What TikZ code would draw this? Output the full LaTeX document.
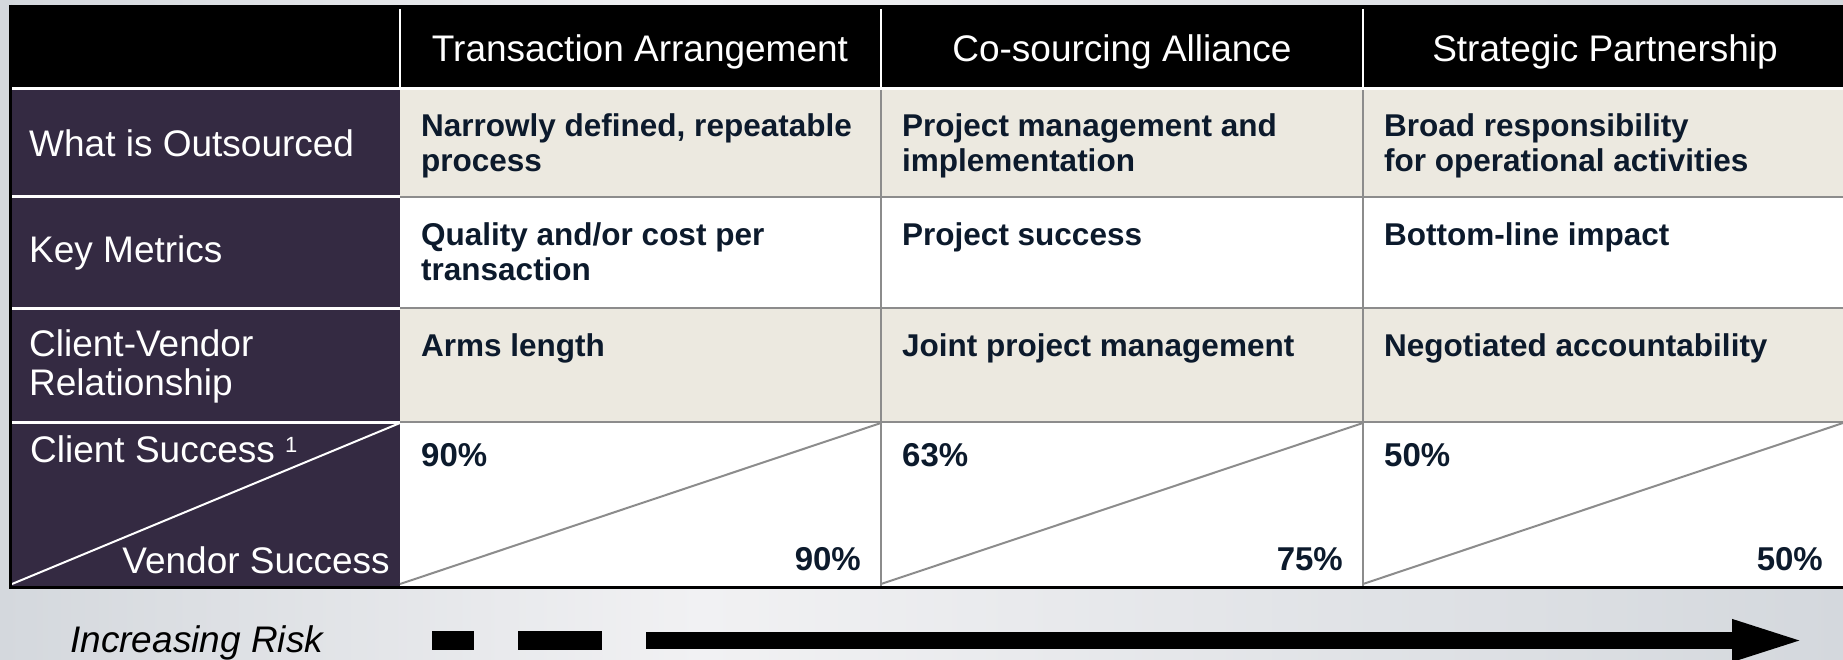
\documentclass[tikz,border=0pt]{standalone}
\usepackage{fontspec}
\setmainfont{Liberation Sans}
\usepackage{xcolor}
\usepackage{tikz}
\usetikzlibrary{arrows.meta}
\usetikzlibrary{positioning}

\definecolor{grisfondo}{RGB}{212,216,221}
\definecolor{fondoclaro}{RGB}{241,241,243}
\definecolor{morado}{RGB}{52,42,66}
\definecolor{beige}{RGB}{236,233,224}
\definecolor{tinta}{RGB}{12,26,44}
\definecolor{rejilla}{RGB}{140,140,140}

\begin{document}
\begin{tikzpicture}[x=1pt, y=-1pt,
    cabecera/.style={font=\fontsize{37}{40}\selectfont, text=white, anchor=base, inner sep=0pt},
    etiqueta/.style={font=\fontsize{37}{39}\selectfont, text=white, align=left, anchor=west, inner sep=0pt},
    celda/.style={font=\fontsize{31.5}{35}\selectfont\bfseries, text=tinta, align=left, anchor=north west, inner sep=0pt},
    porcentaje/.style={font=\fontsize{33}{36}\selectfont\bfseries, text=tinta, inner sep=0pt},
    gris/.style={draw=rejilla, line width=2.5pt},
    blanca/.style={draw=white, line width=3pt},
    flecha/.style={line width=17pt, -{Triangle[length=75pt, width=37pt]}}
]
\useasboundingbox (0,0) rectangle (1843,660);

% Fondo
\shade[left color=grisfondo, right color=fondoclaro] (0,0) rectangle (700,660);
\shade[left color=fondoclaro, right color=grisfondo] (700,0) rectangle (1843,660);

% Relleno de la tabla
\fill[black] (9,5) rectangle (1843,88);
\fill[morado] (9,88) rectangle (400,586);
\fill[beige] (400,88) rectangle (1843,197);
\fill[white] (400,197) rectangle (1843,308);
\fill[beige] (400,308) rectangle (1843,421);
\fill[white] (400,421) rectangle (1843,586);

% Lineas de la rejilla
\draw[blanca] (9,89) -- (1843,89);
\draw[blanca] (12,197) -- (400,197);
\draw[blanca] (12,308) -- (400,308);
\draw[blanca] (12,422) -- (400,422);
\draw[gris] (400,197) -- (1843,197);
\draw[gris] (400,308) -- (1843,308);
\draw[gris] (400,422) -- (1843,422);
\draw[white, line width=2pt] (400,9) -- (400,88);
\draw[white, line width=2pt] (881,9) -- (881,88);
\draw[white, line width=2pt] (1363,9) -- (1363,88);
\draw[gris] (881,90) -- (881,586);
\draw[gris] (1363,90) -- (1363,586);

% Diagonales
\draw[white, line width=2pt] (12,584) -- (400,423);
\draw[rejilla, line width=2pt] (400,584) -- (881,423);
\draw[rejilla, line width=2pt] (881,584) -- (1363,423);
\draw[rejilla, line width=2pt] (1363,584) -- (1843,423);

% Borde
\draw[black, line width=3pt] (10.5,5) -- (10.5,587.5) -- (1843,587.5);

% Cabeceras
\node[cabecera] (th1) at (640,62) {Transaction Arrangement};
\node[cabecera] (th2) at (1122,62) {Co-sourcing Alliance};
\node[cabecera] (th3) at (1605,62) {Strategic Partnership};

% Etiquetas de filas
\node[etiqueta] (l1) at (29,143) {What is Outsourced};
\node[etiqueta] (l2) at (29,253) {Key Metrics};
\node[etiqueta] (l3) at (29,366) {Client-Vendor\\Relationship};
\node[etiqueta, anchor=base west] (l4a) at (30,462) {Client Success {\fontsize{22}{22}\selectfont\raisebox{10pt}{1}}};
\node[etiqueta, anchor=base east] (l4b) at (390,573) {Vendor Success};

% Que se externaliza
\node[celda] (c11) at (421,113) {Narrowly defined, repeatable\\process};
\node[celda] (c12) at (902,113) {Project management and\\implementation};
\node[celda] (c13) at (1384,113) {Broad responsibility\\for operational activities};

% Metricas
\node[celda] (c21) at (421,222) {Quality and/or cost per\\transaction};
\node[celda] (c22) at (902,222) {Project success};
\node[celda] (c23) at (1384,222) {Bottom-line impact};

% Relacion
\node[celda] (c31) at (421,333) {Arms length};
\node[celda] (c32) at (902,333) {Joint project management};
\node[celda] (c33) at (1384,333) {Negotiated accountability};

% Exito cliente / proveedor
\node[porcentaje, anchor=base west] (p11) at (421,466) {90\%};
\node[porcentaje, anchor=base west] (p12) at (902,466) {63\%};
\node[porcentaje, anchor=base west] (p13) at (1384,466) {50\%};
\node[porcentaje, anchor=base east] (p21) at (861,570) {90\%};
\node[porcentaje, anchor=base east] (p22) at (1343,570) {75\%};
\node[porcentaje, anchor=base east] (p23) at (1823,570) {50\%};

% Riesgo creciente
\node[font=\fontsize{37}{40}\selectfont\itshape, anchor=base west, inner sep=0pt] (riesgo) at (70,652) {Increasing Risk};
\fill[black] (432,631) rectangle (474,650);
\fill[black] (518,631) rectangle (602,650);
\coordinate (inicio) at (646,640.5);
\coordinate (fin) at (1807,640.5);
\draw[flecha] (inicio) -- (fin);

\end{tikzpicture}
\end{document}
